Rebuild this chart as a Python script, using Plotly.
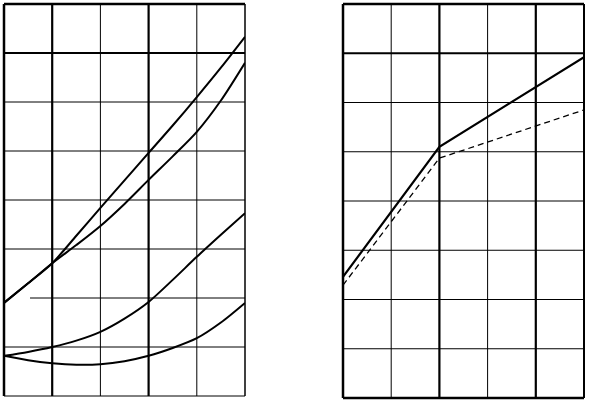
import plotly.graph_objects as go

# ---- data (grid units) ----
left_x = [0, 0.5, 1, 1.5, 2, 2.5, 3, 3.5, 4, 4.5, 5]
curve_a = [1.90, 2.30, 2.71, 3.27, 3.84, 4.40, 4.96, 5.52, 6.10, 6.70, 7.33]
curve_b = [1.90, 2.30, 2.71, 3.08, 3.47, 3.92, 4.41, 4.89, 5.39, 6.03, 6.80]
curve_c = [0.82, 0.90, 1.00, 1.13, 1.31, 1.58, 1.92, 2.37, 2.84, 3.29, 3.73]
curve_d = [0.82, 0.73, 0.67, 0.64, 0.65, 0.71, 0.82, 0.98, 1.18, 1.50, 1.90]

right_x = [0, 2, 5]
solid_r = [2.46, 5.10, 6.92]
dashed_r = [2.29, 4.87, 5.85]

W, H = 589, 405
fig = go.Figure()

def add_line(x, y, xa, ya, dash="solid", width=2, shape="spline"):
    fig.add_trace(go.Scatter(x=x, y=y, xaxis=xa, yaxis=ya, mode="lines",
                             line=dict(color="black", width=width, dash=dash, shape=shape,
                                       smoothing=0.8 if shape == "spline" else None),
                             showlegend=False, hoverinfo="skip"))

for c in (curve_a, curve_b, curve_c, curve_d):
    add_line(left_x, c, "x", "y")
add_line(right_x, solid_r, "x2", "y2", width=2.2, shape="linear")
add_line(right_x, dashed_r, "x2", "y2", dash="6px,4px", width=1.3, shape="linear")

ax = dict(showgrid=False, zeroline=False, showticklabels=False, ticks="", showline=False)
lx = [4 / W, 245 / W]; ly = [9 / H, 401 / H]
rx = [343 / W, 584 / W]; ry = [7 / H, 401 / H]
fig.update_layout(
    width=W, height=H, margin=dict(l=0, r=0, t=0, b=0),
    paper_bgcolor="white", plot_bgcolor="white",
    xaxis=dict(ax, domain=lx, range=[0, 5]),
    yaxis=dict(ax, domain=ly, range=[0, 8]),
    xaxis2=dict(ax, domain=rx, range=[0, 5]),
    yaxis2=dict(ax, domain=ry, range=[0, 8]),
)

shapes = []
def seg(x0, y0, x1, y1, xr, yr, w):
    shapes.append(dict(type="line", x0=x0, y0=y0, x1=x1, y1=y1, xref=xr, yref=yr,
                       line=dict(color="black", width=w), layer="below"))

# interior grid, left panel
for i in range(1, 5):
    seg(i, 0, i, 8, "x", "y", 2.2 if i in (1, 3) else 1)
for j in range(1, 8):
    seg(0.54 if j == 2 else 0, j, 5, j, "x", "y", 2.2 if j == 7 else 1)
# interior grid, right panel
for i in range(1, 5):
    seg(i, 0, i, 8, "x2", "y2", 2.2 if i in (2, 4) else 1)
for j in range(1, 8):
    seg(0, j, 5, j, "x2", "y2", 2.2 if j == 7 else 1)

# borders (paper coords)
def border(xd, yd, wl, wt, wr, wb):
    seg(xd[0], yd[0], xd[0], yd[1], "paper", "paper", wl)
    seg(xd[0], yd[1], xd[1], yd[1], "paper", "paper", wt)
    seg(xd[1], yd[0], xd[1], yd[1], "paper", "paper", wr)
    seg(xd[0], yd[0], xd[1], yd[0], "paper", "paper", wb)
border(lx, ly, 2.5, 2.5, 1.5, 1)
border(rx, ry, 2.5, 2.5, 2, 2.5)

fig.update_layout(shapes=shapes)
fig.write_html("out.html", config={"displayModeBar": False},
               post_script="document.body.style.margin='0';document.body.style.overflow='hidden';")
